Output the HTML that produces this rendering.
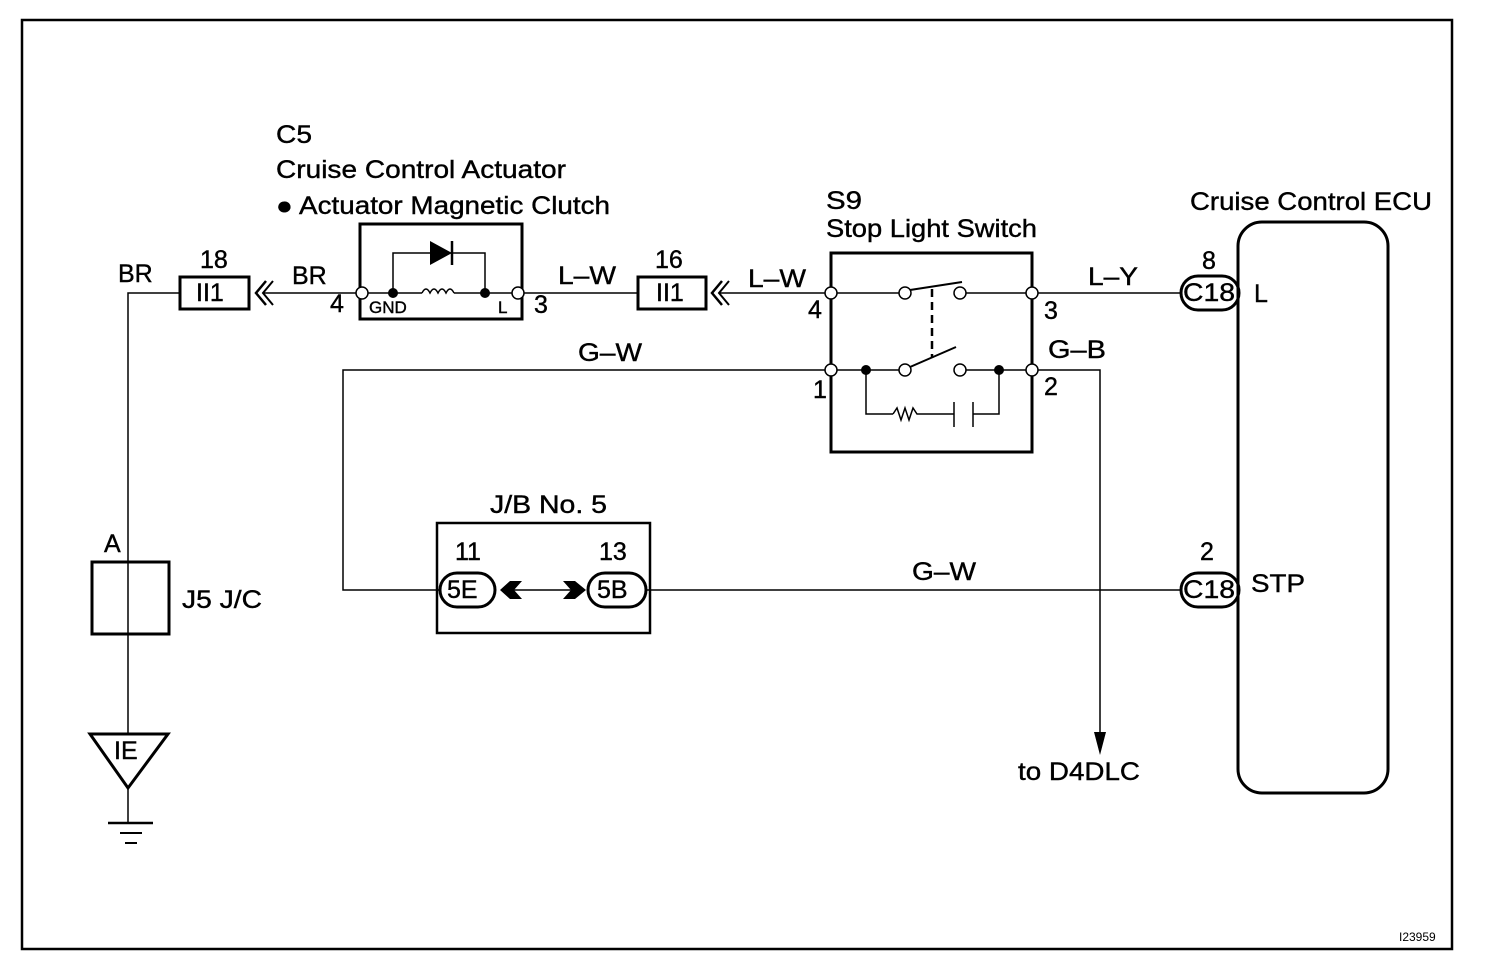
<!DOCTYPE html>
<html><head><meta charset="utf-8"><style>
html,body{margin:0;padding:0;background:#fff;}
svg{display:block;}
text{font-family:"Liberation Sans",Arial,sans-serif;fill:#000;stroke:#000;stroke-width:0.4;}
</style></head><body>
<svg width="1504" height="976" viewBox="0 0 1504 976" xmlns="http://www.w3.org/2000/svg">
<g fill="none" stroke="#000">
<rect x="22" y="20" width="1430" height="929" stroke-width="2.5"/>
<polyline points="180,293 128,293 128,733" stroke-width="1.5"/>
<line x1="128" y1="788" x2="128" y2="823" stroke-width="1.5"/>
<line x1="108" y1="823" x2="153" y2="823" stroke-width="2.5"/>
<line x1="120" y1="833" x2="142" y2="833" stroke-width="2"/>
<line x1="125" y1="843" x2="137" y2="843" stroke-width="2"/>
<polygon points="90,734 168,734 128,788" stroke-width="3"/>
<rect x="92" y="562" width="77" height="72" stroke-width="3"/>
<rect x="180" y="277" width="69" height="32" stroke-width="3"/>
<polyline points="266,281 256,293 266,305" stroke-width="2.5"/>
<polyline points="273,281 263,293 273,305" stroke-width="2"/>
<line x1="263" y1="293" x2="357" y2="293" stroke-width="1.5"/>
<rect x="360" y="224" width="162" height="95" stroke-width="3"/>
<line x1="367" y1="293" x2="422" y2="293" stroke-width="1.5"/>
<path d="M422,293 q4,-8 8,0 q4,-8 8,0 q4,-8 8,0 q4,-8 8,0" stroke-width="1.5"/>
<line x1="454" y1="293" x2="513" y2="293" stroke-width="1.5"/>
<polyline points="393,293 393,253 485,253 485,293" stroke-width="1.5"/>
<line x1="452" y1="241" x2="452" y2="265" stroke-width="2.5"/>
<line x1="523" y1="293" x2="638" y2="293" stroke-width="1.5"/>
<rect x="638" y="277" width="68" height="32" stroke-width="3"/>
<polyline points="722,281 712,293 722,305" stroke-width="2.5"/>
<polyline points="729,281 719,293 729,305" stroke-width="2"/>
<line x1="719" y1="293" x2="826" y2="293" stroke-width="1.5"/>
<rect x="831" y="253" width="201" height="199" stroke-width="3"/>
<line x1="836" y1="293" x2="899" y2="293" stroke-width="1.5"/>
<line x1="964" y1="293" x2="1027" y2="293" stroke-width="1.5"/>
<line x1="910" y1="290" x2="962" y2="282" stroke-width="2"/>
<line x1="932" y1="289" x2="932" y2="358" stroke-width="2.5" stroke-dasharray="8,5"/>
<line x1="836" y1="370" x2="899" y2="370" stroke-width="1.5"/>
<line x1="966" y1="370" x2="1027" y2="370" stroke-width="1.5"/>
<line x1="910" y1="367" x2="956" y2="347" stroke-width="2"/>
<polyline points="866,370 866,414 893,414" stroke-width="1.5"/>
<polyline points="893,414 897,408 901,420 905,408 909,420 913,408 917,414 954,414" stroke-width="1.5"/>
<line x1="954" y1="402" x2="954" y2="427" stroke-width="1.5"/>
<line x1="973" y1="402" x2="973" y2="427" stroke-width="1.5"/>
<polyline points="973,414 999,414 999,370" stroke-width="1.5"/>
<line x1="1037" y1="293" x2="1182" y2="293" stroke-width="1.5"/>
<rect x="1181" y="276" width="58" height="34" rx="17" stroke-width="3"/>
<rect x="1238" y="222" width="150" height="571" rx="24" stroke-width="3"/>
<polyline points="826,370 343,370 343,590 440,590" stroke-width="1.5"/>
<rect x="437" y="523" width="213" height="110" stroke-width="2.5"/>
<rect x="440" y="573" width="55" height="34" rx="17" stroke-width="3"/>
<rect x="588" y="573" width="58" height="34" rx="17" stroke-width="3"/>
<line x1="512" y1="590" x2="572" y2="590" stroke-width="1.5"/>
<line x1="646" y1="590" x2="1181" y2="590" stroke-width="1.5"/>
<rect x="1181" y="573" width="58" height="34" rx="17" stroke-width="3"/>
<polyline points="1037,370 1100,370 1100,745" stroke-width="1.5"/>
</g>
<g fill="#000">
<polygon points="430,241 452,253 430,265"/>
<circle cx="393" cy="293" r="5"/><circle cx="485" cy="293" r="5"/>
<circle cx="866" cy="370" r="5"/><circle cx="999" cy="370" r="5"/>
<polygon points="1094,732 1106,732 1100,755"/>
<polygon points="500,590 510,581 522,581 514,590 522,599 510,599"/>
<polygon points="563,581 575,581 586,590 575,599 563,599 571,590"/>
</g>
<g fill="#fff" stroke="#000" stroke-width="1.5">
<circle cx="362" cy="293" r="6"/><circle cx="518" cy="293" r="6"/>
<circle cx="831" cy="293" r="6"/><circle cx="1032" cy="293" r="6"/>
<circle cx="831" cy="370" r="6"/><circle cx="1032" cy="370" r="6"/>
<circle cx="905" cy="293" r="6"/><circle cx="960" cy="293" r="6"/>
<circle cx="905" cy="370" r="6"/><circle cx="960" cy="370" r="6"/>
</g>
<g font-size="25">
<text x="276" y="143" textLength="36" lengthAdjust="spacingAndGlyphs">C5</text>
<text x="276" y="178" textLength="290" lengthAdjust="spacingAndGlyphs">Cruise Control Actuator</text>
<text x="276" y="214" textLength="334" lengthAdjust="spacingAndGlyphs">● Actuator Magnetic Clutch</text>
<text x="826" y="209" textLength="36" lengthAdjust="spacingAndGlyphs">S9</text>
<text x="826" y="237" textLength="211" lengthAdjust="spacingAndGlyphs">Stop Light Switch</text>
<text x="1190" y="210" textLength="242" lengthAdjust="spacingAndGlyphs">Cruise Control ECU</text>
<text x="118" y="282">BR</text>
<text x="200" y="268">18</text>
<text x="196" y="301">II1</text>
<text x="292" y="284">BR</text>
<text x="330" y="312">4</text>
<text x="534" y="313">3</text>
<text x="558" y="284" textLength="58" lengthAdjust="spacingAndGlyphs">L–W</text>
<text x="655" y="268">16</text>
<text x="656" y="301">II1</text>
<text x="748" y="287" textLength="58" lengthAdjust="spacingAndGlyphs">L–W</text>
<text x="808" y="318">4</text>
<text x="1044" y="319">3</text>
<text x="1088" y="285" textLength="50" lengthAdjust="spacingAndGlyphs">L–Y</text>
<text x="1202" y="269">8</text>
<text x="1183" y="301" textLength="52" lengthAdjust="spacingAndGlyphs">C18</text>
<text x="1254" y="302">L</text>
<text x="578" y="361" textLength="64" lengthAdjust="spacingAndGlyphs">G–W</text>
<text x="1048" y="358" textLength="58" lengthAdjust="spacingAndGlyphs">G–B</text>
<text x="813" y="398">1</text>
<text x="1044" y="395">2</text>
<text x="490" y="513" textLength="117" lengthAdjust="spacingAndGlyphs">J/B No. 5</text>
<text x="455" y="560">11</text>
<text x="599" y="560">13</text>
<text x="447" y="598">5E</text>
<text x="597" y="598">5B</text>
<text x="912" y="580" textLength="64" lengthAdjust="spacingAndGlyphs">G–W</text>
<text x="1200" y="560">2</text>
<text x="1183" y="598" textLength="52" lengthAdjust="spacingAndGlyphs">C18</text>
<text x="1251" y="592" textLength="54" lengthAdjust="spacingAndGlyphs">STP</text>
<text x="104" y="552">A</text>
<text x="182" y="608" textLength="80" lengthAdjust="spacingAndGlyphs">J5 J/C</text>
<text x="114" y="759">IE</text>
<text x="1018" y="780" textLength="122" lengthAdjust="spacingAndGlyphs">to D4DLC</text>
</g>
<g font-size="17">
<text x="369" y="313">GND</text>
<text x="498" y="313">L</text>
</g>
<text x="1399" y="941" font-size="12" style="stroke-width:0">I23959</text>
</svg>
</body></html>
